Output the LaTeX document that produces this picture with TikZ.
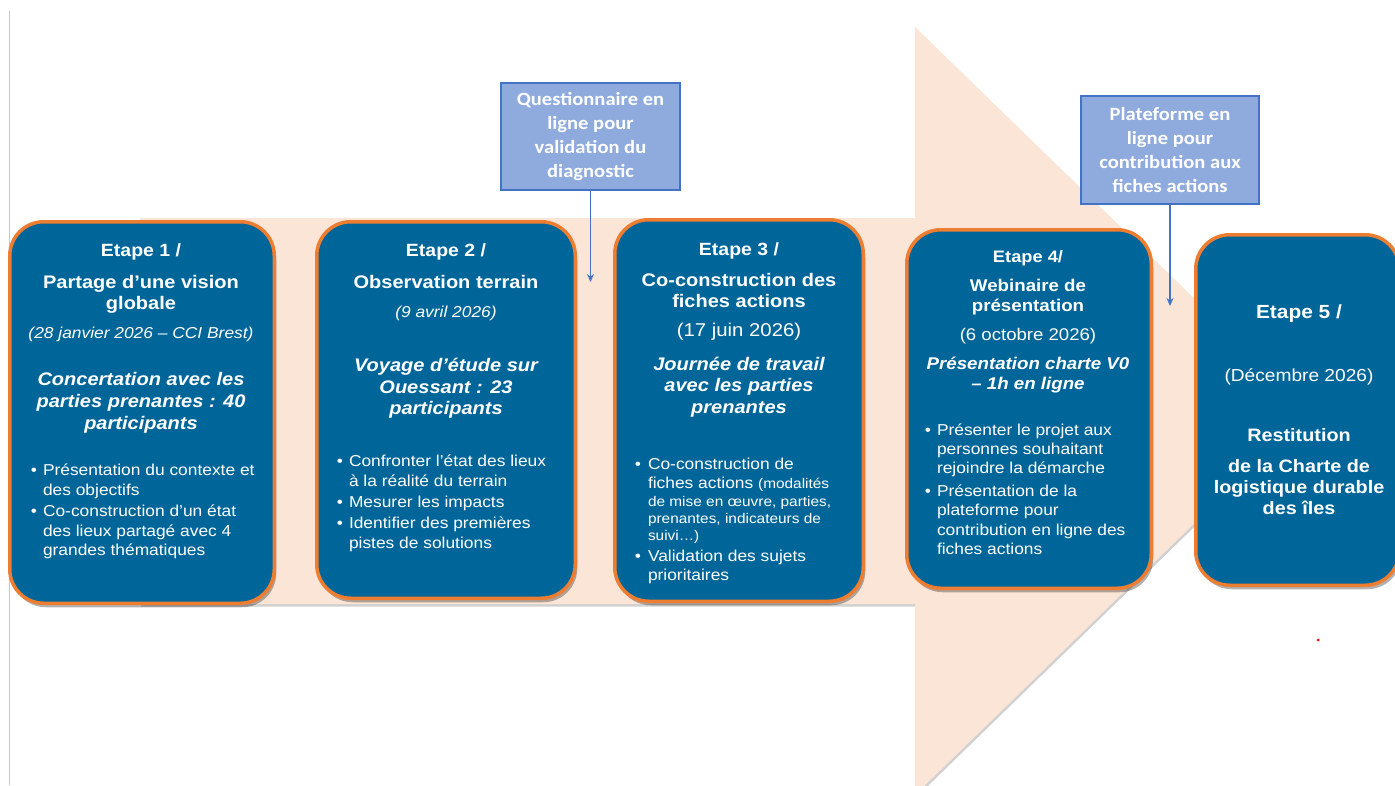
\documentclass[tikz,border=0pt]{standalone}
\usepackage{fontspec}
\setmainfont[FakeStretch=1.1]{Liberation Sans}
\newfontfamily\calfont[FakeStretch=1.1]{Carlito}
\usetikzlibrary{shadows,arrows.meta}
\definecolor{boxblue}{RGB}{0,102,153}
\definecolor{boxorange}{RGB}{237,125,49}
\definecolor{peach}{RGB}{251,229,214}
\definecolor{calfill}{RGB}{143,170,220}
\definecolor{caldraw}{RGB}{68,114,196}
\newcommand\tcl[5]{\node[txt,#4,anchor=base] (#1) at (#2,#3) {#5};}
\newcommand\tll[5]{\node[txt,#4,anchor=base west] (#1) at (#2,#3) {#5};}
\newcommand\tbu[4]{\node[txt,#4,anchor=base] (#1) at (#2,#3) {\textbullet};}
\begin{document}
\begin{tikzpicture}[x=1pt,y=-1pt,
  txt/.style={text=white, inner sep=0, outer sep=0},
  fet/.style={font=\fontsize{17.7}{21}\selectfont\bfseries},
  fti/.style={font=\fontsize{18.2}{21}\selectfont\bfseries},
  fdi/.style={font=\fontsize{15.8}{19}\selectfont\itshape},
  fsu/.style={font=\fontsize{18.2}{22}\selectfont\bfseries\itshape},
  fbu/.style={font=\fontsize{15.8}{20}\selectfont},
  fdr/.style={font=\fontsize{18.5}{21}\selectfont},
  fet4/.style={font=\fontsize{16.6}{20}\selectfont\bfseries},
  fti4/.style={font=\fontsize{17}{20}\selectfont\bfseries},
  fdr4/.style={font=\fontsize{16.9}{20}\selectfont},
  fsu4/.style={font=\fontsize{17}{20}\selectfont\bfseries\itshape},
  fet5/.style={font=\fontsize{19}{22}\selectfont\bfseries},
  fdr5/.style={font=\fontsize{17.4}{21}\selectfont},
  fti5/.style={font=\fontsize{18}{21}\selectfont\bfseries},
  stepbox/.style={draw=boxorange, fill=boxblue, line width=3.5pt, rounded corners=34pt, inner sep=0,
    drop shadow={shadow xshift=2pt, shadow yshift=-4pt, fill=black, opacity=0.3}},
  callout/.style={draw=caldraw, fill=calfill, line width=2pt, minimum width=179pt, minimum height=107pt,
    inner sep=0, align=center, text=white, font=\calfont\fontsize{18.7}{24}\selectfont\bfseries},
  callline/.style={draw=caldraw, line width=1.6pt, -{Stealth[length=8pt,width=7pt]}}
]
\useasboundingbox (0,0) rectangle (1395,785);
\fill[white] (0,0) rectangle (1395,785);

% left grey rule
\coordinate (lt) at (9.5,11);
\coordinate (lb) at (9.5,785);
\draw[black!22, line width=1.2pt] (lt) -- (lb);

% big background arrow
\path[fill=peach, drop shadow={shadow xshift=1pt, shadow yshift=-2.5pt, fill=black, opacity=0.18}]
  (140,218) -- (915,218) -- (915,27) -- (1310,411) -- (915,795) -- (915,604) -- (140,604) -- cycle;

% step boxes
\node[stepbox, minimum width=264.5pt, minimum height=381.5pt] (b1) at (142,412.5) {};
\node[stepbox, minimum width=258.5pt, minimum height=376.5pt] (b2) at (446,410) {};
\node[stepbox, minimum width=248.5pt, minimum height=381.5pt] (b3) at (739,410.5) {};
\node[stepbox, minimum width=244.5pt, minimum height=358.5pt] (b4) at (1029,409) {};
\node[stepbox, minimum width=203.5pt, minimum height=350.5pt] (b5) at (1297.5,410) {};

% box 1
\tcl{b1a}{141}{256.5}{fet}{Etape 1 /}
\tcl{b1b}{141}{288}{fti}{Partage d’une vision}
\tcl{b1c}{141}{309.5}{fti}{globale}
\tcl{b1d}{141}{338.5}{fdi}{(28 janvier 2026 – CCI Brest)}
\tcl{b1e}{141}{385}{fsu}{Concertation avec les}
\tcl{b1f}{141}{407}{fsu}{parties prenantes : 40}
\tcl{b1g}{141}{429}{fsu}{participants}
\tbu{b1p1}{34}{475}{fbu}
\tll{b1h}{43}{475}{fbu}{Présentation du contexte et}
\tll{b1i}{43}{495.5}{fbu}{des objectifs}
\tbu{b1p2}{34}{516}{fbu}
\tll{b1j}{43}{516}{fbu}{Co-construction d’un état}
\tll{b1k}{43}{536}{fbu}{des lieux partagé avec 4}
\tll{b1l}{43}{555.5}{fbu}{grandes thématiques}

% box 2
\tcl{b2a}{446}{256.5}{fet}{Etape 2 /}
\tcl{b2b}{446}{288}{fti}{Observation terrain}
\tcl{b2c}{446}{317}{fdi}{(9 avril 2026)}
\tcl{b2d}{446}{371.5}{fsu}{Voyage d’étude sur}
\tcl{b2e}{446}{393}{fsu}{Ouessant : 23}
\tcl{b2f}{446}{414.5}{fsu}{participants}
\tbu{b2p1}{340}{466.5}{fbu}
\tll{b2g}{349}{466.5}{fbu}{Confronter l’état des lieux}
\tll{b2h}{349}{486}{fbu}{à la réalité du terrain}
\tbu{b2p2}{340}{507.5}{fbu}
\tll{b2i}{349}{507.5}{fbu}{Mesurer les impacts}
\tbu{b2p3}{340}{528.5}{fbu}
\tll{b2j}{349}{528.5}{fbu}{Identifier des premières}
\tll{b2k}{349}{548.5}{fbu}{pistes de solutions}

% box 3
\tcl{b3a}{739}{255}{fet}{Etape 3 /}
\tcl{b3b}{739}{286}{fti}{Co-construction des}
\tcl{b3c}{739}{307.5}{fti}{fiches actions}
\tcl{b3d}{739}{336}{fdr}{(17 juin 2026)}
\tcl{b3e}{739}{370}{fsu}{Journée de travail}
\tcl{b3f}{739}{391.5}{fsu}{avec les parties}
\tcl{b3g}{739}{413}{fsu}{prenantes}
\tbu{b3p1}{638}{469.5}{fbu}
\tll{b3h}{648}{469.5}{fbu}{Co-construction de}
\tll{b3i}{648}{488.5}{fbu}{fiches actions {\fontsize{14}{17}\selectfont(modalités}}
\tll{b3j}{648}{506}{font=\fontsize{14}{17}\selectfont}{de mise en œuvre, parties,}
\tll{b3k}{648}{523.5}{font=\fontsize{14}{17}\selectfont}{prenantes, indicateurs de}
\tll{b3l}{648}{540.5}{font=\fontsize{14}{17}\selectfont}{suivi…)}
\tbu{b3p2}{638}{561.5}{fbu}
\tll{b3m}{648}{561.5}{fbu}{Validation des sujets}
\tll{b3n}{648}{580.5}{fbu}{prioritaires}

% box 4
\tcl{b4a}{1028}{262.5}{fet4}{Etape 4/}
\tcl{b4b}{1028}{291.5}{fti4}{Webinaire de}
\tcl{b4c}{1028}{311.5}{fti4}{présentation}
\tcl{b4d}{1028}{340}{fdr4}{(6 octobre 2026)}
\tcl{b4e}{1028}{369.5}{fsu4}{Présentation charte V0}
\tcl{b4f}{1028}{389.5}{fsu4}{– 1h en ligne}
\tbu{b4p1}{928}{435}{fbu}
\tll{b4g}{937}{435}{fbu}{Présenter le projet aux}
\tll{b4h}{937}{454.5}{fbu}{personnes souhaitant}
\tll{b4i}{937}{473.5}{fbu}{rejoindre la démarche}
\tbu{b4p2}{928}{496}{fbu}
\tll{b4j}{937}{496}{fbu}{Présentation de la}
\tll{b4k}{937}{515.5}{fbu}{plateforme pour}
\tll{b4l}{937}{535}{fbu}{contribution en ligne des}
\tll{b4m}{937}{554}{fbu}{fiches actions}

% box 5
\tcl{b5a}{1299}{318.5}{fet5}{Etape 5 /}
\tcl{b5b}{1299}{381}{fdr5}{(Décembre 2026)}
\tcl{b5c}{1299}{441.5}{fti5}{Restitution}
\tcl{b5d}{1299}{472}{fti5}{de la Charte de}
\tcl{b5e}{1299}{493}{fti5}{logistique durable}
\tcl{b5f}{1299}{514}{fti5}{des îles}

% callouts
\node[callout] (c1) at (590.5,136.5) {Questionnaire en\\ligne pour\\validation du\\diagnostic};
\coordinate (c1end) at (590.5,282);
\draw[callline] (c1.south) -- (c1end);
\node[callout, minimum width=178pt, minimum height=108pt] (c2) at (1170,150) {Plateforme en\\ligne pour\\contribution aux\\fiches actions};
\coordinate (c2end) at (1170,306);
\draw[callline] (c2.south) -- (c2end);

% red dot
\node[circle, fill=red, inner sep=0, minimum size=3pt] (dot) at (1318,640) {};
\end{tikzpicture}
\end{document}
